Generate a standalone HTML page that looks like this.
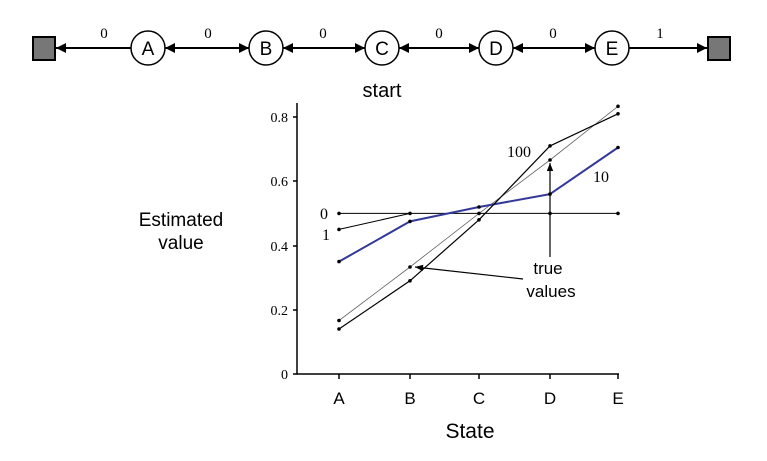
<!DOCTYPE html><html><head><style>body{margin:0;background:#fff}svg{display:block}</style></head><body>
<svg width="767" height="461" viewBox="0 0 767 461" xmlns="http://www.w3.org/2000/svg">
<defs><marker id="ah" viewBox="0 0 10 10" refX="10" refY="5" markerWidth="12" markerHeight="10" orient="auto-start-reverse" markerUnits="userSpaceOnUse"><path d="M0,0L10,5L0,10z" fill="#000"/></marker>
<marker id="sa" viewBox="0 0 10 10" refX="10" refY="5" markerWidth="10" markerHeight="8" orient="auto" markerUnits="userSpaceOnUse"><path d="M0,1L10,5L0,9z" fill="#000"/></marker></defs>
<g stroke="#000" stroke-width="2" fill="none">
<rect x="33" y="37" width="22" height="23" fill="#777"/>
<rect x="708" y="37" width="22" height="23" fill="#777"/>
<line x1="131" y1="48" x2="56" y2="48" marker-end="url(#ah)"/>
<line x1="165" y1="48" x2="249" y2="48" marker-end="url(#ah)" marker-start="url(#ah)"/>
<line x1="283" y1="48" x2="365" y2="48" marker-end="url(#ah)" marker-start="url(#ah)"/>
<line x1="399" y1="48" x2="479" y2="48" marker-end="url(#ah)" marker-start="url(#ah)"/>
<line x1="513" y1="48" x2="595" y2="48" marker-end="url(#ah)" marker-start="url(#ah)"/>
<line x1="629" y1="48" x2="707" y2="48" marker-end="url(#ah)"/>
</g>
<g stroke="#000" stroke-width="1.5" fill="#fff">
<circle cx="148" cy="48" r="17"/><circle cx="266" cy="48" r="17"/><circle cx="382" cy="48" r="17"/><circle cx="496" cy="48" r="17"/><circle cx="612" cy="48" r="17"/></g>
<g font-family="Liberation Sans, sans-serif" font-size="19" text-anchor="middle">
<text x="148" y="55">A</text><text x="266" y="55">B</text><text x="382" y="55">C</text><text x="496" y="55">D</text><text x="612" y="55">E</text>
<text x="382" y="97" font-size="20">start</text></g>
<g font-family="Liberation Serif, serif" font-size="15" text-anchor="middle">
<text x="104" y="38">0</text><text x="208" y="38">0</text><text x="323" y="38">0</text><text x="439" y="38">0</text><text x="553" y="38">0</text><text x="660" y="38">1</text></g>
<g stroke="#000" stroke-width="1.5" fill="none">
<path d="M297,103V374H619"/>
<path d="M339,374v5M410,374v5M479,374v5M550,374v5M618,374v5"/>
<path d="M297,117h-4M297,181h-4M297,246h-4M297,310h-4M297,374h-4"/></g>
<g font-family="Liberation Serif, serif" font-size="14" text-anchor="end">
<text x="288" y="122">0.8</text><text x="288" y="186">0.6</text><text x="288" y="251">0.4</text><text x="288" y="315">0.2</text><text x="288" y="379">0</text></g>
<g font-family="Liberation Sans, sans-serif" font-size="17" text-anchor="middle">
<text x="339" y="404">A</text><text x="410" y="404">B</text><text x="479" y="404">C</text><text x="550" y="404">D</text><text x="618" y="404">E</text>
<text x="470" y="438" font-size="21">State</text>
<text x="181" y="226" font-size="19">Estimated</text><text x="181" y="249" font-size="19">value</text>
<text x="548" y="274">true</text><text x="551" y="297">values</text></g>
<g font-family="Liberation Serif, serif" font-size="16">
<text x="507" y="157">100</text><text x="593" y="182">10</text><text x="320" y="219">0</text><text x="322" y="240">1</text></g>
<g fill="none" stroke-linejoin="round">
<polyline stroke="#666" stroke-width="0.8" points="339,320.5 410,267 479,213.4 550,160 618,106.3"/>
<polyline stroke="#000" stroke-width="1" points="339,213.4 618,213.4"/>
<polyline stroke="#000" stroke-width="1" points="339,229.4 410,213.4"/>
<polyline stroke="#33399a" stroke-width="2" points="339,261.6 410,221.4 479,207 550,194.1 618,147.5"/>
<polyline stroke="#000" stroke-width="1.2" points="339,329 410,280.8 479,219.8 550,145.9 618,113.8"/>
<line x1="550" y1="257" x2="550" y2="163" stroke="#000" stroke-width="1.2" marker-end="url(#sa)"/>
<line x1="523" y1="279" x2="415" y2="267" stroke="#000" stroke-width="1.2" marker-end="url(#sa)"/>
</g>
<g fill="#000">
<circle cx="339" cy="213.4" r="1.8"/><circle cx="410" cy="213.4" r="1.8"/><circle cx="479" cy="213.4" r="1.8"/><circle cx="550" cy="213.4" r="1.8"/><circle cx="618" cy="213.4" r="1.8"/>
<circle cx="339" cy="229.4" r="1.8"/>
<circle cx="339" cy="261.6" r="1.8"/><circle cx="410" cy="221.4" r="1.8"/><circle cx="479" cy="207" r="1.8"/><circle cx="550" cy="194.1" r="1.8"/><circle cx="618" cy="147.5" r="1.8"/>
<circle cx="339" cy="329" r="1.8"/><circle cx="410" cy="280.8" r="1.8"/><circle cx="479" cy="219.8" r="1.8"/><circle cx="550" cy="145.9" r="1.8"/><circle cx="618" cy="113.8" r="1.8"/>
<circle cx="339" cy="320.5" r="1.8"/><circle cx="410" cy="267" r="1.8"/><circle cx="550" cy="160" r="1.8"/><circle cx="618" cy="106.3" r="1.8"/>
</g>
</svg></body></html>
